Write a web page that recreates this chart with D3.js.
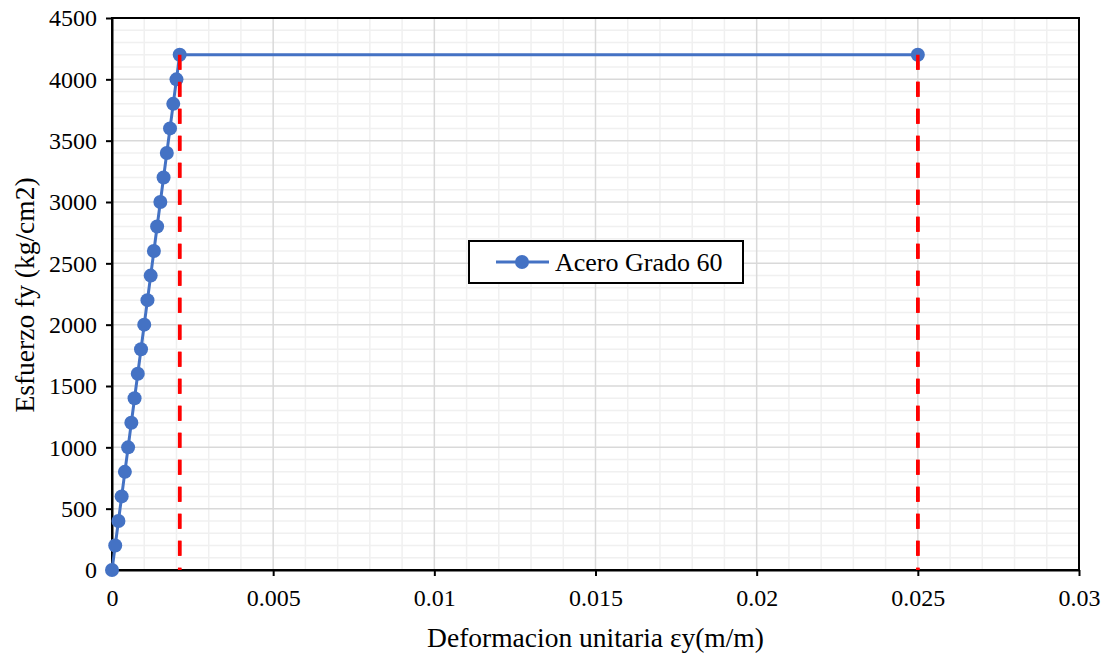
<!DOCTYPE html>
<html>
<head>
<meta charset="utf-8">
<script src="https://cdn.jsdelivr.net/npm/d3@7"></script>
<style>
  body { margin: 0; background: #fff; }
  svg { display: block; }
  svg text { font-family: "Liberation Serif", "Times New Roman", serif; }
</style>
</head>
<body>
<svg id="chart" width="1105" height="654"></svg>
<script>
// Stress (kg/cm2) along the elastic branch, steel grade 60 (E = 2,000,000 kg/cm2)
const stress = [0, 200, 400, 600, 800, 1000, 1200, 1400, 1600, 1800, 2000,
                2200, 2400, 2600, 2800, 3000, 3200, 3400, 3600, 3800, 4000, 4200, 4200];
const strain = [0, 0.0001, 0.0002, 0.0003, 0.0004, 0.0005, 0.0006, 0.0007, 0.0008, 0.0009, 0.001,
                0.0011, 0.0012, 0.0013, 0.0014, 0.0015, 0.0016, 0.0017, 0.0018, 0.0019, 0.002, 0.0021, 0.025];
// Yield strain and ultimate strain markers
const guideStrain = [0.0021, 0.025];
const guideStress = [4200, 4200];
const xTicks = [0, 0.005, 0.01, 0.015, 0.02, 0.025, 0.03];
const yTicks = [0, 500, 1000, 1500, 2000, 2500, 3000, 3500, 4000, 4500];
const seriesName = "Acero Grado 60";

const FONT = '"Liberation Serif", "Times New Roman", serif';
const svg = d3.select("#chart");
const m = { left: 112, right: 1079, top: 18, bottom: 570 };

const x = d3.scaleLinear().domain([0, 0.03]).range([m.left, m.right]);
const y = d3.scaleLinear().domain([0, 4500]).range([m.bottom, m.top]);

// minor gridlines
const g = svg.append("g");
g.selectAll("line.mx").data(d3.range(1, 30).filter(i => i % 5 !== 0).map(i => i * 0.001))
  .join("line").attr("x1", d => x(d)).attr("x2", d => x(d))
  .attr("y1", m.top).attr("y2", m.bottom).attr("stroke", "#f0f0f0").attr("stroke-width", 1.5);
g.selectAll("line.my").data(d3.range(1, 45).filter(i => i % 5 !== 0).map(i => i * 100))
  .join("line").attr("y1", d => y(d)).attr("y2", d => y(d))
  .attr("x1", m.left).attr("x2", m.right).attr("stroke", "#f0f0f0").attr("stroke-width", 1.5);
// major gridlines
g.selectAll("line.Mx").data(xTicks.slice(1, -1))
  .join("line").attr("x1", d => x(d)).attr("x2", d => x(d))
  .attr("y1", m.top).attr("y2", m.bottom).attr("stroke", "#d9d9d9").attr("stroke-width", 1.5);
g.selectAll("line.My").data(yTicks.slice(1, -1))
  .join("line").attr("y1", d => y(d)).attr("y2", d => y(d))
  .attr("x1", m.left).attr("x2", m.right).attr("stroke", "#d9d9d9").attr("stroke-width", 1.5);

// frame
svg.append("rect").attr("x", m.left).attr("y", m.top)
  .attr("width", m.right - m.left).attr("height", m.bottom - m.top)
  .attr("fill", "none").attr("stroke", "#000").attr("stroke-width", 2);

// axes
const xAxis = svg.append("g").attr("transform", `translate(0,${m.bottom})`)
  .call(d3.axisBottom(x).tickValues(xTicks).tickFormat(d => String(+d.toFixed(3))).tickSize(6).tickSizeOuter(0));
const yAxis = svg.append("g").attr("transform", `translate(${m.left},0)`)
  .call(d3.axisLeft(y).tickValues(yTicks).tickFormat(d3.format("d")).tickSize(6).tickSizeOuter(0));
[xAxis, yAxis].forEach(a => {
  a.attr("font-family", FONT).attr("font-size", 24);
  a.select(".domain").attr("stroke", "#000").attr("stroke-width", 2);
  a.selectAll(".tick line").attr("stroke", "#000").attr("stroke-width", 2);
  a.selectAll(".tick text").attr("fill", "#000").style("font-family", FONT).style("font-size", "24px");
});
xAxis.selectAll(".tick text").attr("y", 19);
yAxis.selectAll(".tick text").attr("x", -15);

// dashed guides (drawn under the series, and again on top)
function guides() {
  svg.append("g").selectAll("line").data(guideStrain)
    .join("line")
    .attr("x1", d => x(d)).attr("x2", d => x(d))
    .attr("y1", (d, i) => y(guideStress[i])).attr("y2", y(0))
    .attr("stroke", "#ff0000").attr("stroke-width", 3.5).attr("stroke-dasharray", "15,12");
}
guides();

// series
const pts = strain.map((s, i) => [s, stress[i]]);
svg.append("path").datum(pts)
  .attr("fill", "none").attr("stroke", "#4472c4").attr("stroke-width", 3)
  .attr("d", d3.line().x(d => x(d[0])).y(d => y(d[1])));
svg.append("g").selectAll("circle").data(pts).join("circle")
  .attr("cx", d => x(d[0])).attr("cy", d => y(d[1])).attr("r", 7)
  .attr("fill", "#4472c4");

guides();

// legend
const lg = svg.append("g");
lg.append("rect").attr("x", 469).attr("y", 241).attr("width", 274).attr("height", 42)
  .attr("fill", "#fff").attr("stroke", "#000").attr("stroke-width", 2);
lg.append("line").attr("x1", 496).attr("x2", 549).attr("y1", 262).attr("y2", 262)
  .attr("stroke", "#4472c4").attr("stroke-width", 3);
lg.append("circle").attr("cx", 522).attr("cy", 262).attr("r", 7).attr("fill", "#4472c4");
lg.append("text").attr("x", 555).attr("y", 271).text(seriesName)
  .attr("fill", "#000").attr("font-size", 26);

// axis titles
svg.append("text").attr("x", (m.left + m.right) / 2).attr("y", 647)
  .attr("text-anchor", "middle").attr("font-size", 27.5).text("Deformacion unitaria εy(m/m)");
svg.append("text").attr("transform", `translate(34,${(m.top + m.bottom) / 2 + 1}) rotate(-90)`)
  .attr("text-anchor", "middle").attr("font-size", 27.5).text("Esfuerzo fy (kg/cm2)");
</script>
</body>
</html>
